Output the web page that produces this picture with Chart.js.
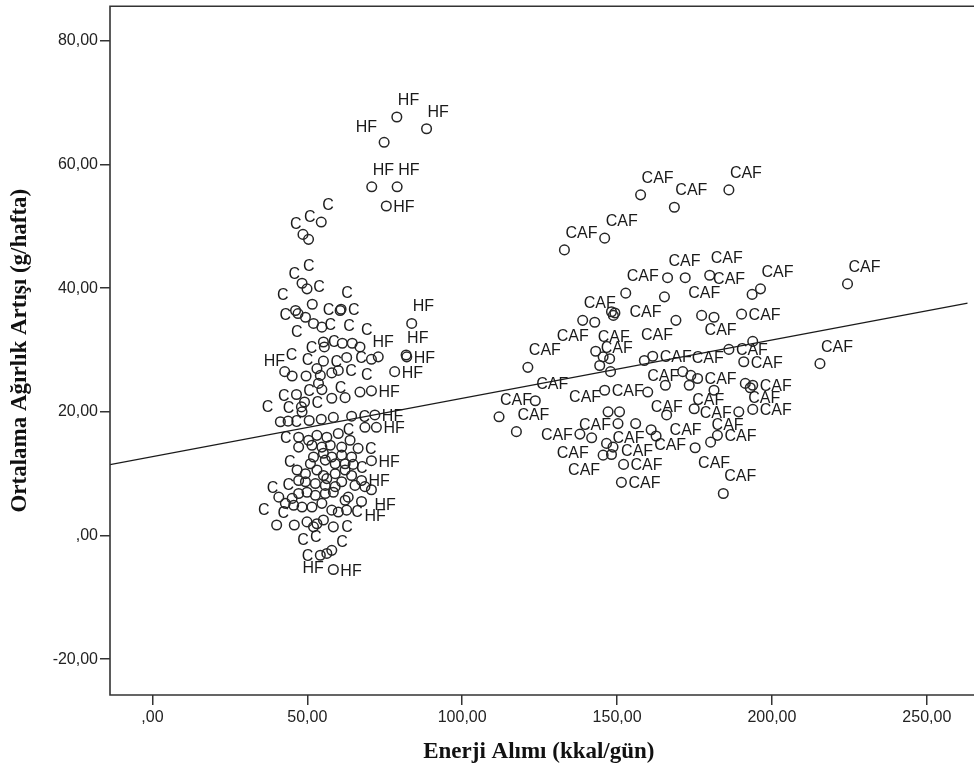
<!DOCTYPE html>
<html>
<head>
<meta charset="utf-8">
<title>Enerji Alımı ve Ağırlık Artışı</title>
<script src="https://cdn.jsdelivr.net/npm/chart.js@4.4.1/dist/chart.umd.min.js"></script>
<style>
  html, body { margin: 0; padding: 0; background: #fff; overflow: hidden; }
  #chart { display: block; }
</style>
</head>
<body>
<canvas id="chart" width="974" height="775"></canvas>
<script>
// enerji alımı (kkal/gün) ve ortalama ağırlık artışı (g/hafta), diyet grubuna göre
const cEnergy = [54.5,48.6,50.4,48.3,49.9,51.6,60.6,60.9,46.2,47.0,49.4,52.0,54.7,
  55.2,55.5,61.3,64.5,67.0,55.2,62.7,53.1,54.2,57.9,60.0,42.7,49.6,53.6,54.7,46.5,49.1,57.9,62.2,67.0,48.1,48.3,50.6,54.5,58.4,64.3,41.3,
  47.2,50.4,53.1,56.3,60.0,63.8,66.4,47.2,51.5,54.7,57.4,61.1,52.0,55.2,57.9,61.1,64.3,55.8,59.0,62.2,64.8,51.0,
  46.7,49.4,53.1,55.2,56.3,59.0,62.2,64.3,47.2,49.4,52.6,55.8,59.0,61.1,63.2,65.4,42.9,45.1,47.2,49.9,52.6,55.8,58.4,62.2,
  45.6,48.3,51.5,54.7,57.9,60.0,62.7,40.1,45.8,49.9,52.0,53.1,55.2,58.4,54.2];
const cGain = [50.7,48.7,47.9,40.8,39.9,37.4,36.4,36.6,36.4,35.9,35.3,34.3,33.7,
  31.3,30.5,31.1,31.1,30.5,28.2,28.8,27.0,25.9,26.3,26.7,26.5,25.8,24.6,23.6,22.8,21.6,22.2,22.3,23.2,20.8,20.0,18.6,18.8,19.1,19.3,18.4,
  15.9,15.4,16.2,15.9,16.5,15.4,14.1,14.3,14.6,14.3,14.6,14.3,12.7,13.3,12.7,13.0,12.7,12.2,11.6,11.6,11.5,11.6,
  10.6,10.0,10.6,9.7,9.2,10.0,10.6,9.7,8.9,8.7,8.4,8.1,7.9,8.7,6.2,8.1,5.2,6.0,6.8,7.0,6.5,6.8,7.0,5.7,
  4.9,4.6,4.6,5.2,4.1,3.8,4.1,1.7,1.7,2.2,1.4,1.9,2.5,1.4,-3.2];

const hfEnergy = [78.9,88.5,74.8,70.8,79.0,75.5,83.7,70.7,72.9,81.9,82.1,78.2,70.7,71.8,68.6,72.3,70.7,67.5,
  70.7,68.6,67.5,56.3,57.9,58.4,45.1,43.8,40.8];
const hfGain = [67.7,65.8,63.6,56.4,56.4,53.3,34.3,28.5,28.9,29.2,28.9,26.5,23.4,19.5,17.5,17.5,12.1,8.9,
  7.4,7.9,5.5,-2.9,-2.4,-5.5,25.8,18.5,6.2];

const cafEnergy = [157.6,168.5,146.0,133.0,166.3,172.0,179.9,152.8,165.3,177.3,181.3,138.9,142.8,148.2,148.8,149.3,169.0,143.1,145.5,147.6,158.8,161.5,
  186.1,224.4,196.3,193.6,190.2,186.1,193.8,
  121.2,123.6,111.9,117.5,144.4,147.9,171.2,173.8,176.0,173.3,146.0,159.9,165.6,147.1,150.8,150.3,156.0,161.0,162.6,166.0,174.9,181.3,
  138.0,141.8,146.6,148.7,145.5,148.2,152.1,151.4,175.2,180.2,182.4,
  215.5,190.9,191.4,193.0,193.8,189.3,193.8,184.3];
const cafGain = [55.1,53.1,48.1,46.2,41.7,41.7,42.1,39.2,38.6,35.6,35.3,34.8,34.5,36.2,35.6,36.0,34.8,29.8,28.9,28.6,28.3,29.0,
  55.9,40.7,39.9,39.0,35.8,30.1,31.4,
  27.2,21.8,19.2,16.8,27.5,26.5,26.5,25.9,25.4,24.3,23.5,23.2,24.3,20.0,20.0,18.1,18.1,17.1,16.1,19.5,20.5,23.5,
  16.4,15.8,14.9,14.3,13.0,13.1,11.5,8.6,14.2,15.1,16.2,
  27.8,28.1,24.6,23.9,24.3,20.0,20.4,6.8];

const groups = ['C', 'HF', 'CAF'];
const xTicks = [0, 50, 100, 150, 200, 250];
const yTicks = [-20, 0, 20, 40, 60, 80];
const xMin = -13.7, xMax = 263.2;
const yMin = -25.8, yMax = 85.6;

// doğrusal uyum çizgisi (tüm gruplar)
const fitIntercept = 12.75;
const fitSlope = 0.0943;

const pairs = (xs, ys) => xs.map((x, i) => ({ x: x, y: ys[i] }));
const fmt = v => v.toFixed(2).replace('.', ',').replace(/^0/, '');

const markStyle = {
  pointRadius: 4.8,
  pointBorderWidth: 1.5,
  pointBorderColor: '#262626',
  pointBackgroundColor: 'rgba(0,0,0,0)',
  showLine: false
};

// SPSS-style case labels: put the group name next to each point where it fits
const pointLabels = {
  id: 'pointLabels',
  afterDatasetsDraw(chart) {
    const ctx = chart.ctx;
    const area = chart.chartArea;
    ctx.save();
    ctx.font = '16px "Liberation Sans", Arial, sans-serif';
    ctx.fillStyle = '#1a1a1a';
    ctx.textBaseline = 'alphabetic';
    const marks = [];
    chart.data.datasets.forEach((ds, i) => {
      if (ds.type === 'line') return;
      chart.getDatasetMeta(i).data.forEach(el => marks.push({ x: el.x, y: el.y, text: ds.label }));
    });
    const r = 2.5;
    const h = 11;
    const placed = [];
    const hit = (a, b) => a.l < b.r && a.r > b.l && a.t < b.b && a.b > b.t;
    marks.forEach((m, k) => {
      const w = ctx.measureText(m.text).width;
      const spots = [
        [m.x + 1, m.y - 12],
        [m.x - 7 - w, m.y - 10],
        [m.x + 7, m.y + 6],
        [m.x - 7 - w, m.y + 6],
        [m.x + 3, m.y + 20],
        [m.x - 3 - w, m.y + 20]
      ];
      for (const [lx, by] of spots) {
        const box = { l: lx, r: lx + w, t: by - h, b: by };
        if (box.l < area.left || box.t < area.top || box.b > area.bottom) continue;
        if (placed.some(p => hit(p, box))) continue;
        if (marks.some((o, j) => j !== k && hit({ l: o.x - r, r: o.x + r, t: o.y - r, b: o.y + r }, box))) continue;
        placed.push(box);
        ctx.fillText(m.text, lx, by);
        break;
      }
    });
    ctx.restore();
  }
};

// left, top and bottom border of the plot
const frame = {
  id: 'frame',
  afterDraw(chart) {
    const { ctx, chartArea: a } = chart;
    ctx.save();
    ctx.strokeStyle = '#333';
    ctx.lineWidth = 1.6;
    ctx.beginPath();
    ctx.moveTo(chart.width, a.top);
    ctx.lineTo(a.left, a.top);
    ctx.lineTo(a.left, a.bottom);
    ctx.lineTo(chart.width, a.bottom);
    ctx.stroke();
    ctx.restore();
  }
};

const tickFont = { family: '"Liberation Sans", Arial, sans-serif', size: 16 };
const titleFont = { family: '"Liberation Serif", "Times New Roman", serif', size: 23, weight: 'bold' };

new Chart(document.getElementById('chart'), {
  type: 'scatter',
  data: {
    datasets: [
      { label: groups[0], data: pairs(cEnergy, cGain), ...markStyle },
      { label: groups[1], data: pairs(hfEnergy, hfGain), ...markStyle },
      { label: groups[2], data: pairs(cafEnergy, cafGain), ...markStyle },
      {
        type: 'line',
        label: 'fit',
        data: [xMin, xMax].map(x => ({ x: x, y: fitIntercept + fitSlope * x })),
        borderColor: '#1a1a1a',
        borderWidth: 1.3,
        pointRadius: 0,
        fill: false
      }
    ]
  },
  options: {
    responsive: false,
    animation: false,
    devicePixelRatio: 1,
    events: [],
    layout: { padding: { top: 6, left: 0, right: 0, bottom: 0 } },
    plugins: { legend: { display: false }, tooltip: { enabled: false } },
    scales: {
      x: {
        type: 'linear',
        min: xMin,
        max: xMax,
        afterBuildTicks: s => { s.ticks = xTicks.map(v => ({ value: v })); },
        afterFit: s => { s.height = 80; s.paddingLeft = 0; s.paddingRight = 0; },
        ticks: { callback: fmt, font: tickFont, color: '#222', padding: 3, maxRotation: 0 },
        grid: { drawOnChartArea: false, drawTicks: true, tickLength: 10, color: '#333', lineWidth: 1.5 },
        border: { display: false },
        title: { display: true, text: 'Enerji Alımı (kkal/gün)', font: titleFont, color: '#111', padding: { top: 0, bottom: 9 } }
      },
      y: {
        type: 'linear',
        min: yMin,
        max: yMax,
        afterBuildTicks: s => { s.ticks = yTicks.map(v => ({ value: v })); },
        afterFit: s => { s.width = 110; s.paddingTop = 0; s.paddingBottom = 0; },
        ticks: { callback: fmt, font: tickFont, color: '#222', padding: 2 },
        grid: { drawOnChartArea: false, drawTicks: true, tickLength: 10, color: '#333', lineWidth: 1.5 },
        border: { display: false },
        title: { display: true, text: 'Ortalama Ağırlık Artışı (g/hafta)', font: titleFont, color: '#111', padding: { top: 6, bottom: 0 } }
      }
    }
  },
  plugins: [frame, pointLabels]
});
</script>
</body>
</html>
